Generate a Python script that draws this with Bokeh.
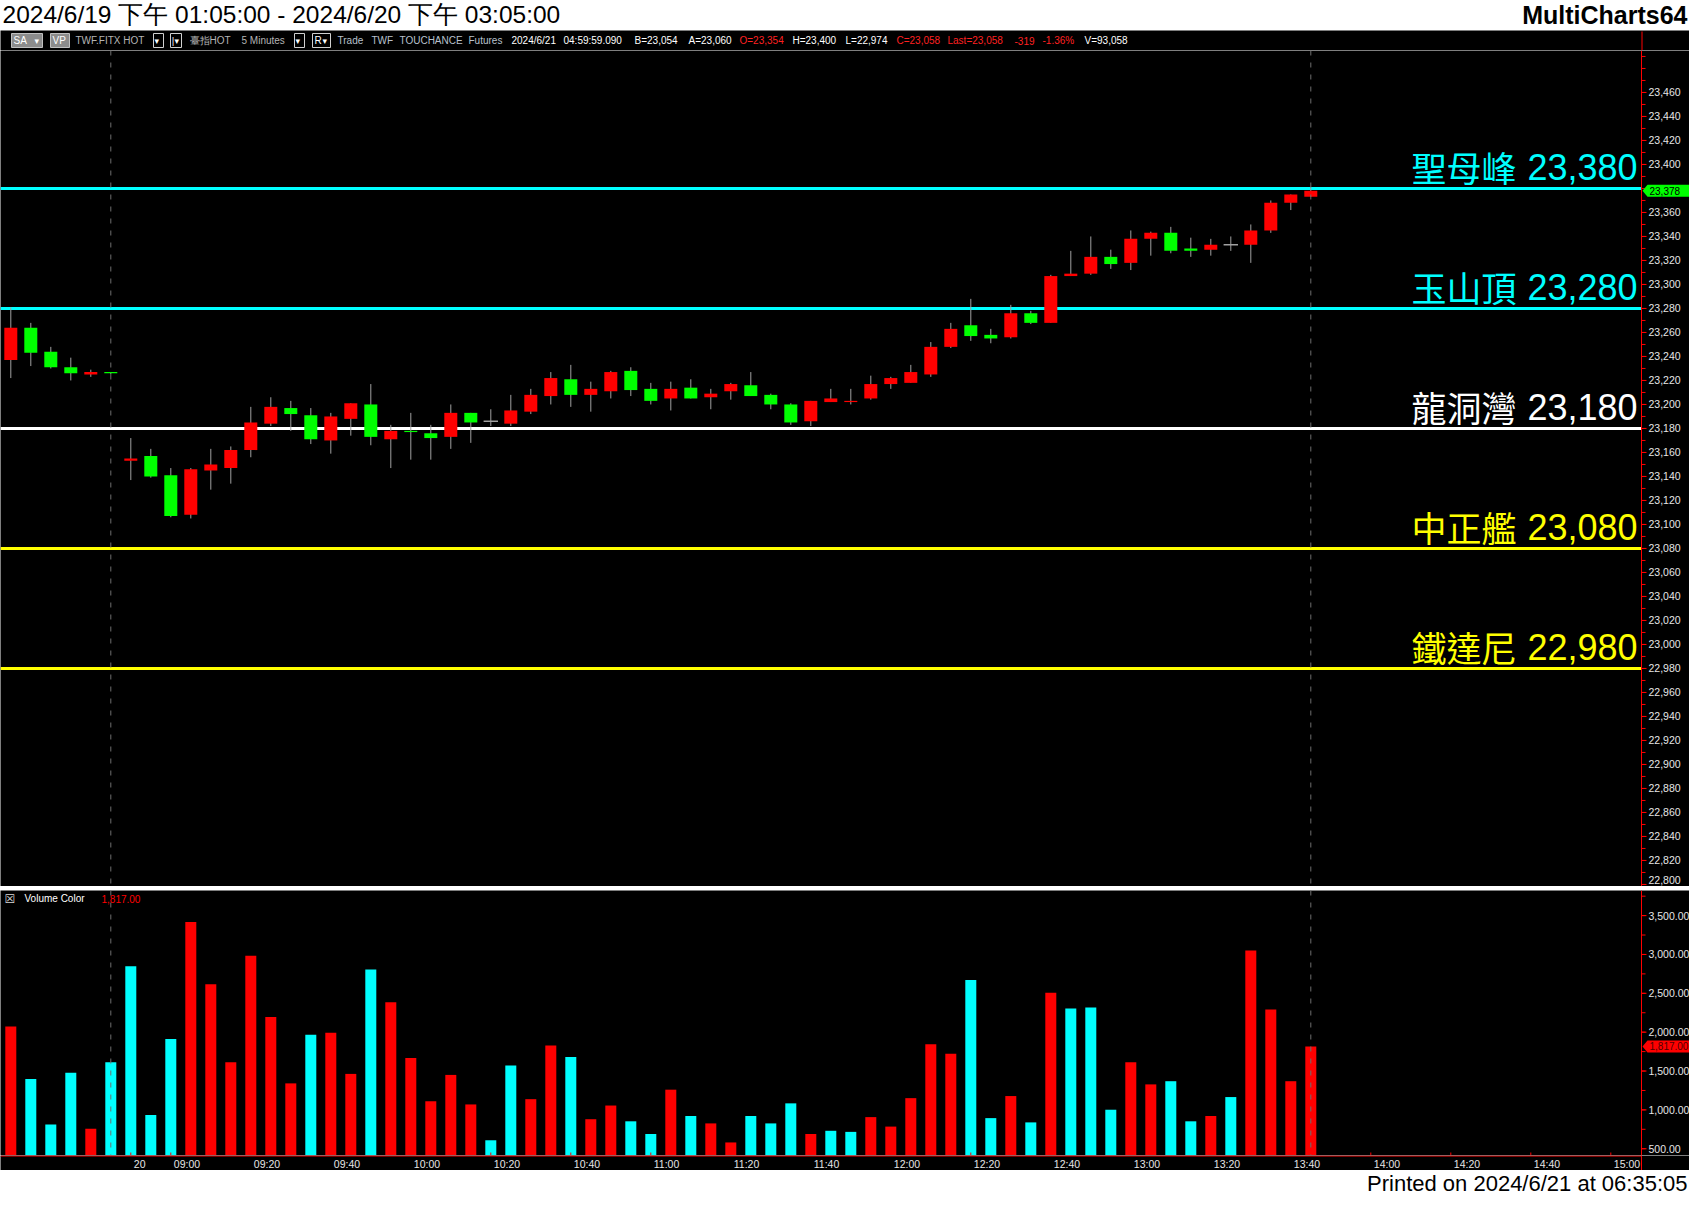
from bokeh.plotting import figure
from bokeh.models import Range1d, Span
from bokeh.layouts import column
from bokeh.embed import file_html
from bokeh.resources import INLINE
from bokeh.core.properties import value

# ---------------- data ----------------
day1_times = ["13:20", "13:25", "13:30", "13:35", "13:40", "13:45"]   # 2024/6/19 last bars
day2_first_bar = "08:50"                                              # 2024/6/20 first bar

opens = [23237, 23264, 23244, 23231, 23225, 23227, 23153, 23157, 23141, 23108,
         23145, 23147, 23162, 23184, 23197, 23191, 23170, 23188, 23200, 23171,
         23178, 23176, 23173, 23193, 23186, 23184, 23194, 23207, 23221, 23208,
         23211, 23228, 23213, 23205, 23214, 23206, 23211, 23216, 23208, 23200,
         23186, 23202, 23202, 23205, 23217, 23218, 23225, 23248, 23266, 23258,
         23256, 23276, 23268, 23307, 23309, 23323, 23318, 23338, 23343, 23330,
         23329, 23333, 23333, 23345, 23368, 23373]
highs = [23281, 23268, 23248, 23239, 23229, 23227, 23172, 23163, 23147, 23147,
         23163, 23165, 23198, 23206, 23203, 23197, 23193, 23201, 23217, 23183,
         23193, 23183, 23200, 23193, 23196, 23208, 23213, 23227, 23233, 23219,
         23228, 23231, 23218, 23219, 23221, 23213, 23218, 23227, 23209, 23201,
         23203, 23213, 23213, 23224, 23223, 23233, 23252, 23268, 23288, 23263,
         23283, 23278, 23308, 23328, 23340, 23329, 23345, 23344, 23348, 23339,
         23338, 23340, 23350, 23370, 23375, 23381]
lows = [23222, 23232, 23230, 23220, 23223, 23225, 23137, 23139, 23106, 23105,
        23129, 23134, 23156, 23182, 23178, 23167, 23159, 23174, 23166, 23147,
        23154, 23154, 23163, 23168, 23182, 23182, 23192, 23200, 23198, 23194,
        23205, 23207, 23200, 23195, 23205, 23196, 23204, 23207, 23196, 23183,
        23182, 23202, 23200, 23204, 23213, 23218, 23223, 23247, 23253, 23251,
        23255, 23267, 23268, 23307, 23308, 23313, 23312, 23324, 23326, 23323,
        23324, 23328, 23318, 23343, 23362, 23373]
closes = [23264, 23243, 23231, 23226, 23227, 23226, 23155, 23140, 23107, 23146,
          23150, 23162, 23185, 23198, 23192, 23171, 23190, 23201, 23173, 23178,
          23177, 23172, 23193, 23185, 23186, 23195, 23208, 23222, 23208, 23213,
          23227, 23212, 23203, 23213, 23205, 23209, 23217, 23207, 23200, 23185,
          23203, 23205, 23203, 23217, 23222, 23227, 23248, 23263, 23257, 23255,
          23276, 23268, 23307, 23309, 23323, 23317, 23338, 23343, 23328, 23328,
          23333, 23333, 23345, 23368, 23375, 23378]
volumes = [2074, 1396, 812, 1477, 758, 1613, 2848, 934, 1911, 3418,
           2617, 1613, 2983, 2196, 1341, 1966, 1993, 1463, 2807, 2386,
           1667, 1111, 1450, 1070, 609, 1572, 1138, 1830, 1681, 880,
           1056, 853, 690, 1260, 921, 826, 581, 921, 826, 1084,
           690, 731, 717, 907, 785, 1151, 1843, 1721, 2671, 894,
           1178, 839, 2508, 2305, 2318, 1002, 1613, 1328, 1369, 853,
           921, 1165, 3051, 2291, 1369, 1817]
volume_up = [1, 0, 0, 0, 1, 0, 0, 0, 0, 1,
             1, 1, 1, 1, 1, 0, 1, 1, 0, 1,
             1, 1, 1, 1, 0, 0, 1, 1, 0, 1,
             1, 0, 0, 1, 0, 1, 1, 0, 0, 0,
             1, 0, 0, 1, 1, 1, 1, 1, 0, 0,
             1, 0, 1, 0, 0, 0, 1, 1, 0, 0,
             1, 0, 1, 1, 1, 1]

levels = [23380, 23280, 23180, 23080, 22980]
level_names = ["聖母峰", "玉山頂", "龍洞灣", "中正艦", "鐵達尼"]
level_colors = ["#00ffff", "#00ffff", "#ffffff", "#ffff00", "#ffff00"]

tick_times = ["08:50", "09:00", "09:20", "09:40", "10:00", "10:20", "10:40", "11:00",
              "11:20", "11:40", "12:00", "12:20", "12:40", "13:00", "13:20", "13:40",
              "14:00", "14:20", "14:40", "15:00"]
tick_labels = ["20", "09:00", "09:20", "09:40", "10:00", "10:20", "10:40", "11:00",
               "11:20", "11:40", "12:00", "12:20", "12:40", "13:00", "13:20", "13:40",
               "14:00", "14:20", "14:40", "15:00"]

price_major = list(range(22800, 23461, 20))
price_minor = list(range(22790, 23500, 10))
vol_major = list(range(500, 3501, 500))
vol_minor = list(range(250, 3900, 250))

title_text = "2024/6/19 下午 01:05:00 - 2024/6/20 下午 03:05:00"
brand_text = "MultiCharts64"
printed_text = "Printed on 2024/6/21 at 06:35:05"
header_items = [("SA", 13, "#ffffff"), ("VP", 52, "#ffffff"),
                ("TWF.FITX HOT", 75, "#b4b4b4"), ("臺指HOT", 189, "#b4b4b4"),
                ("5 Minutes", 241, "#b4b4b4"), ("R", 314, "#ffffff"),
                ("Trade", 337, "#b8c0cc"), ("TWF", 371, "#b8c0cc"),
                ("TOUCHANCE", 399, "#b8c0cc"), ("Futures", 468, "#b8c0cc"),
                ("2024/6/21", 511, "#ffffff"), ("04:59:59.090", 563, "#ffffff"),
                ("B=23,054", 634, "#ffffff"), ("A=23,060", 688, "#ffffff"),
                ("O=23,354", 739, "#ff2020"), ("H=23,400", 792, "#ffffff"),
                ("L=22,974", 845, "#ffffff"), ("C=23,058", 896, "#ff2020"),
                ("Last=23,058", 947, "#ff2020"), ("-319", 1014, "#ff2020"),
                ("-1.36%", 1042, "#ff2020"), ("V=93,058", 1084, "#ffffff")]

# ---------------- layout ----------------
W = 1689
AXIS_X_PX = 1641
BAR_PX = 20.0
TITLE_H, HEAD_H, PRICE_H, SEP_H, VOL_H, AXIS_H, FOOT_H = 30, 20, 836, 4, 265, 15, 25

n = len(closes)
idx = list(range(n))
PX = 1.0 / BAR_PX
x_start = -0.515
x_stop = x_start + W * PX
ax_x = x_start + AXIS_X_PX * PX
xr = Range1d(x_start, x_stop)

P_PPU = 1.2                       # pixels per price point
p_lo = 22798.3
p_hi = p_lo + PRICE_H / P_PPU
v_lo, v_hi = 413.0, 3823.0
V_PPU = VOL_H / (v_hi - v_lo)

RED, GREEN, CYAN, GRAY = "#ff0000", "#00ff00", "#00ffff", "#a0a0a0"
FONT = value("Liberation Sans")


def make_fig(h, x_range, y_range, bg):
    f = figure(width=W, height=h, x_range=x_range, y_range=y_range,
               output_backend="svg", toolbar_location=None,
               min_border_left=0, min_border_right=0,
               min_border_top=0, min_border_bottom=0,
               background_fill_color=bg, border_fill_color=bg,
               outline_line_color=None, x_axis_location=None, y_axis_location=None)
    f.xgrid.visible = False
    f.ygrid.visible = False
    return f


def right_axis(f, major, minor, labels, ppu, y_low):
    f.add_layout(Span(location=ax_x, dimension="height", line_color=RED, line_width=1))
    f.segment(x0=[ax_x] * len(minor), y0=minor, x1=[ax_x + 4 * PX] * len(minor), y1=minor,
              line_color=RED, line_width=1)
    f.segment(x0=[ax_x] * len(major), y0=major, x1=[ax_x + 5 * PX] * len(major), y1=major,
              line_color=RED, line_width=1)
    # keep a label that sits on the panel's lower edge inside the panel
    offs = [-max(0.0, 7.0 - (t - y_low) * ppu) for t in major]
    f.text(x=[ax_x] * len(major), y=major, text=labels, x_offset=7, y_offset=offs,
           text_align="left", text_baseline="middle", text_color="#e6e6e6",
           text_font=FONT, text_font_size="10.5px")


def value_tag(f, yv, txt, fill, txt_col, ppu):
    hy = 6.0 / ppu
    xs = [ax_x + 1 * PX, ax_x + 6 * PX, x_stop, x_stop, ax_x + 6 * PX]
    ys = [yv, yv + hy, yv + hy, yv - hy, yv - hy]
    f.patch(x=xs, y=ys, fill_color=fill, line_color=None)
    f.text(x=[ax_x], y=[yv], text=[txt], x_offset=8, text_align="left",
           text_baseline="middle", text_color=txt_col, text_font=FONT,
           text_font_size="10px")


# ---- title bar ----
title_fig = make_fig(TITLE_H, Range1d(0, W), Range1d(0, TITLE_H), "#ffffff")
title_fig.text(x=[2], y=[16], text=[title_text], text_color="#000000",
               text_font=FONT, text_font_size="24.5px", text_baseline="middle")
title_fig.text(x=[W - 2], y=[16], text=[brand_text], text_color="#000000",
               text_font=FONT, text_font_size="25px", text_font_style="bold",
               text_align="right", text_baseline="middle")

# ---- header row (symbol / quote line) ----
head = make_fig(HEAD_H, Range1d(0, W), Range1d(0, HEAD_H), "#000000")
head.quad(left=[11, 50], right=[42, 69], bottom=[3, 3], top=[17, 17],
          fill_color="#8c8c8c", line_color="#c0c0c0")
head.quad(left=[153, 170, 294, 312], right=[163, 181, 304, 330],
          bottom=[3] * 4, top=[17] * 4, fill_color="#000000", line_color="#d0d0d0")
head.text(x=[h[1] for h in header_items], y=[HEAD_H / 2] * len(header_items),
          text=[h[0] for h in header_items], text_color=[h[2] for h in header_items],
          text_font=FONT, text_font_size="10px", text_baseline="middle")
arrows = [("▾", 34), ("▾", 154), ("|▾", 171), ("▾", 295), ("▾", 322)]
head.text(x=[a[1] for a in arrows], y=[HEAD_H / 2] * len(arrows),
          text=[a[0] for a in arrows], text_color="#ffffff",
          text_font=value("DejaVu Sans"), text_font_size="9px", text_baseline="middle")
head.segment(x0=[AXIS_X_PX + 0.5], y0=[0], x1=[AXIS_X_PX + 0.5], y1=[HEAD_H - 1],
             line_color=RED, line_width=1)

# ---- price panel ----
price = make_fig(PRICE_H, xr, Range1d(p_lo, p_hi), "#000000")
day_break = len(day1_times) - 1
for loc in (day_break, n - 1):
    price.add_layout(Span(location=loc, dimension="height", line_color="#6e6e6e",
                          line_dash="5 7", line_width=1))
price.segment(x0=[x_start] * len(levels), y0=levels, x1=[ax_x] * len(levels), y1=levels,
              line_color=level_colors, line_width=3)

price.segment(x0=idx, y0=lows, x1=idx, y1=highs, line_color=GRAY, line_width=1)
bi = [i for i in idx if opens[i] != closes[i]]
price.vbar(x=bi, width=0.65,
           top=[max(opens[i], closes[i]) for i in bi],
           bottom=[min(opens[i], closes[i]) for i in bi],
           fill_color=[RED if closes[i] > opens[i] else GREEN for i in bi],
           line_color=None)
di = [i for i in idx if opens[i] == closes[i]]
price.segment(x0=[i - 0.36 for i in di], y0=[closes[i] for i in di],
              x1=[i + 0.36 for i in di], y1=[closes[i] for i in di],
              line_color=GRAY, line_width=1.5)

price.text(x=[ax_x] * len(levels), y=levels, text=[f"{lv:,}" for lv in levels],
           text_color=level_colors, x_offset=-4, y_offset=-21, text_align="right",
           text_baseline="middle", text_font=FONT, text_font_size="36px")
price.text(x=[ax_x] * len(levels), y=levels, text=level_names, text_color=level_colors,
           x_offset=-125, y_offset=-22, text_align="right", text_baseline="middle",
           text_font=value("Noto Sans CJK TC"), text_font_size="35px")

pm = [t for t in price_major if abs(t - closes[-1]) > 8]
right_axis(price, pm, price_minor, [f"{t:,}" for t in pm], P_PPU, p_lo)
value_tag(price, closes[-1], f"{closes[-1]:,}", GREEN, "#000000", P_PPU)

# ---- separator ----
sep = make_fig(SEP_H, Range1d(0, W), Range1d(0, SEP_H), "#b4b4b4")
sep.quad(left=[0], right=[W], bottom=[1], top=[3], fill_color="#f4f4f4", line_color=None)

# ---- volume panel ----
vol = make_fig(VOL_H, xr, Range1d(v_lo, v_hi), "#000000")
for loc in (day_break, n - 1):
    vol.add_layout(Span(location=loc, dimension="height", line_color="#6e6e6e",
                        line_dash="5 7", line_width=1))
vol.vbar(x=idx, width=0.55, bottom=v_lo, top=volumes,
         fill_color=[RED if u else CYAN for u in volume_up], line_color=None)

t_min = [int(t.split(":")[0]) * 60 + int(t.split(":")[1]) for t in tick_times]
first = int(day2_first_bar.split(":")[0]) * 60 + int(day2_first_bar.split(":")[1])
tick_pos = [len(day1_times) + (m - first) // 5 for m in t_min]
vol.segment(x0=tick_pos, y0=v_lo, x1=tick_pos, y1=v_lo + 3 / V_PPU,
            line_color=RED, line_width=1)

right_axis(vol, vol_major, vol_minor, [f"{t:,.2f}" for t in vol_major], V_PPU, v_lo)
value_tag(vol, volumes[-1], f"{volumes[-1]:,.2f}", RED, "#500000", V_PPU)

vol.text(x=[x_start], y=[v_hi], text=["☒"], text_color="#d8d8d8", x_offset=4, y_offset=8,
         text_font=value("DejaVu Sans"), text_font_size="12px", text_baseline="middle")
vol.text(x=[x_start, x_start], y=[v_hi, v_hi],
         text=["Volume Color", f"{volumes[-1]:,.2f}"], text_color=["#ffffff", RED],
         x_offset=[24, 101], y_offset=8, text_font=FONT, text_font_size="10px",
         text_baseline="middle")

# ---- time axis strip ----
strip = make_fig(AXIS_H, xr, Range1d(0, AXIS_H), "#000000")
strip.segment(x0=[x_start], y0=[AXIS_H - 0.5], x1=[ax_x], y1=[AXIS_H - 0.5],
              line_color=RED, line_width=1)
strip.segment(x0=[ax_x], y0=[0], x1=[ax_x], y1=[AXIS_H], line_color=RED, line_width=1)
strip.text(x=tick_pos, y=[AXIS_H / 2 - 0.5] * len(tick_pos), text=tick_labels,
           text_color="#e6e6e6", x_offset=3, text_align="left", text_baseline="middle",
           text_font=FONT, text_font_size="10.5px")

# ---- footer ----
foot = make_fig(FOOT_H, Range1d(0, W), Range1d(0, FOOT_H), "#ffffff")
foot.text(x=[W - 2], y=[FOOT_H / 2], text=[printed_text], text_color="#000000",
          text_align="right", text_baseline="middle",
          text_font=FONT, text_font_size="22px")

p = column(title_fig, head, price, sep, vol, strip, foot, spacing=0)
open("out.html", "w").write(file_html(p, INLINE))
